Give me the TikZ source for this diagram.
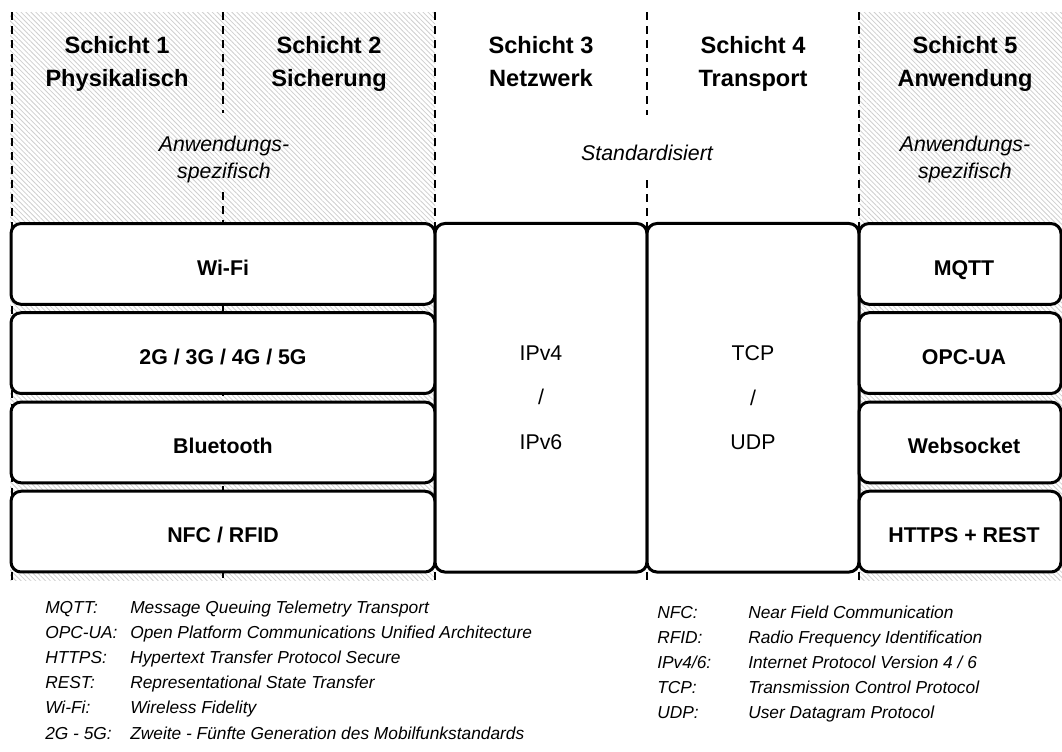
\documentclass[tikz,border=0pt]{standalone}
\usepackage{fontspec}
\setmainfont{Liberation Sans}
\usetikzlibrary{patterns.meta}
\begin{document}
\begin{tikzpicture}[x=0.75pt,y=-0.75pt,
  hatch/.style={pattern={Lines[angle=-45,distance=2.6pt,line width=0.6pt]},pattern color=gray!38},
  sep/.style={draw=black,line width=1.5pt,dash pattern=on 6pt off 4.5pt},
  box/.style={draw=black,line width=2.25pt,rounded corners=7.5pt,fill=white,inner sep=0pt,
    text height=16.7pt,text depth=0pt,font=\bfseries\fontsize{16}{19}\selectfont},
  lbox/.style={box,minimum width=318pt,minimum height=60.56pt},
  rbox/.style={box,minimum width=151.5pt,minimum height=60.56pt},
  mbox/.style={draw=black,line width=2.25pt,rounded corners=7.5pt,fill=white,inner sep=0pt,
    minimum width=159pt,minimum height=261.4pt,align=center,
    font=\fontsize{16}{33.5}\selectfont},
  rlab/.style={inner sep=0pt,text height=16.7pt,text depth=0pt,font=\bfseries\fontsize{16}{19}\selectfont},
  head/.style={anchor=base,inner sep=0pt,font=\bfseries\fontsize{17.7}{21}\selectfont},
  note/.style={anchor=base,inner sep=0pt,font=\itshape\fontsize{16}{19}\selectfont},
  leg/.style={anchor=base west,inner sep=0pt,font=\itshape\fontsize{13}{15}\selectfont}]
\useasboundingbox (0,0) rectangle (1062,751);
\fill[white] (0,0) rectangle (1062,751);
% hatched areas
\fill[hatch] (10,12) rectangle (435,580);
\fill[hatch] (859,12) rectangle (1062,580);
% dashed separators
\draw[sep] (11.5,12) -- (11.5,580);
\draw[sep] (223,12) -- (223,113);
\draw[sep] (223,192) -- (223,580);
\draw[sep] (435,12) -- (435,580);
\draw[sep] (647,12) -- (647,115);
\draw[sep] (647,180) -- (647,580);
\draw[sep] (859,12) -- (859,580);
% headers
\node[head] (h1a) at (117,53) {Schicht 1};
\node[head] (h1b) at (117,86) {Physikalisch};
\node[head] (h2a) at (329,53) {Schicht 2};
\node[head] (h2b) at (329,86) {Sicherung};
\node[head] (h3a) at (541,53) {Schicht 3};
\node[head] (h3b) at (541,86) {Netzwerk};
\node[head] (h4a) at (753,53) {Schicht 4};
\node[head] (h4b) at (753,86) {Transport};
\node[head] (h5a) at (965,53) {Schicht 5};
\node[head] (h5b) at (965,86) {Anwendung};
\node[note] (n12a) at (224,151) {Anwendungs-};
\node[note] (n12b) at (224,178) {spezifisch};
\node[note] (n34) at (647,160) {Standardisiert};
\node[note] (n5a) at (965,151) {Anwendungs-};
\node[note] (n5b) at (965,178) {spezifisch};
% left boxes
\node[lbox] (wifi) at (223,263.9) {Wi-Fi};
\node[lbox] (mob) at (223,353.1) {2G / 3G / 4G / 5G};
\node[lbox] (bt) at (223,442.4) {Bluetooth};
\node[lbox] (nfc) at (223,531.6) {NFC / RFID};
% middle boxes
\node[mbox] (ip) at (541,397.75) {IPv4\\/\\IPv6};
\node[mbox] (tcp) at (753,397.75) {TCP\\/\\UDP};
% right boxes
\node[rbox] (mqttb) at (960,263.9) {};
\node[rbox] (opcb) at (960,353.1) {};
\node[rbox] (wsb) at (960,442.4) {};
\node[rbox] (httpb) at (960,531.6) {};
\node[rlab] (mqtt) at (964,263.9) {MQTT};
\node[rlab] (opc) at (964,353.1) {OPC-UA};
\node[rlab] (ws) at (964,442.4) {Websocket};
\node[rlab] (http) at (964,531.6) {HTTPS + REST};
% legend left
\node[leg] (k1) at (45,613) {MQTT:};
\node[leg] (d1) at (130,613) {Message Queuing Telemetry Transport};
\node[leg] (k2) at (45,638.2) {OPC-UA:};
\node[leg] (d2) at (130,638.2) {Open Platform Communications Unified Architecture};
\node[leg] (k3) at (45,663.4) {HTTPS:};
\node[leg] (d3) at (130,663.4) {Hypertext Transfer Protocol Secure};
\node[leg] (k4) at (45,688.6) {REST:};
\node[leg] (d4) at (130,688.6) {Representational State Transfer};
\node[leg] (k5) at (45,713.8) {Wi-Fi:};
\node[leg] (d5) at (130,713.8) {Wireless Fidelity};
\node[leg] (k6) at (45,739) {2G - 5G:};
\node[leg] (d6) at (130,739) {Zweite - Fünfte Generation des Mobilfunkstandards};
% legend right
\node[leg] (k7) at (657,618) {NFC:};
\node[leg] (d7) at (748,618) {Near Field Communication};
\node[leg] (k8) at (657,643) {RFID:};
\node[leg] (d8) at (748,643) {Radio Frequency Identification};
\node[leg] (k9) at (657,668) {IPv4/6:};
\node[leg] (d9) at (748,668) {Internet Protocol Version 4 / 6};
\node[leg] (k10) at (657,693) {TCP:};
\node[leg] (d10) at (748,693) {Transmission Control Protocol};
\node[leg] (k11) at (657,718) {UDP:};
\node[leg] (d11) at (748,718) {User Datagram Protocol};
\end{tikzpicture}
\end{document}
